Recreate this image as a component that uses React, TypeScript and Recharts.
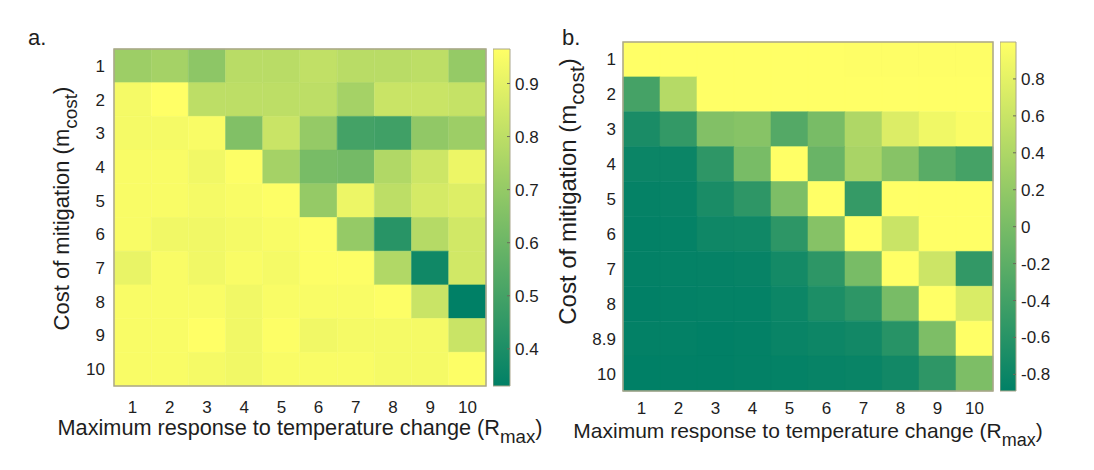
import { BarChart, Bar, Cell, XAxis, YAxis, ReferenceArea } from 'recharts';

// column / row labels
const rMax = ['1', '2', '3', '4', '5', '6', '7', '8', '9', '10'];
const costA = ['1', '2', '3', '4', '5', '6', '7', '8', '9', '10'];
const costB = ['1', '2', '3', '4', '5', '6', '7', '8', '8.9', '10'];

// panel a values, one row per cost of mitigation
const gridA = [
  [0.72, 0.74, 0.68, 0.79, 0.79, 0.81, 0.79, 0.79, 0.8, 0.7],
  [0.94, 0.965, 0.8, 0.8, 0.8, 0.8, 0.74, 0.83, 0.83, 0.82],
  [0.94, 0.94, 0.95, 0.65, 0.83, 0.7, 0.5, 0.49, 0.69, 0.72],
  [0.95, 0.95, 0.93, 0.96, 0.74, 0.63, 0.62, 0.77, 0.84, 0.92],
  [0.95, 0.95, 0.94, 0.95, 0.96, 0.7, 0.92, 0.8, 0.86, 0.88],
  [0.95, 0.93, 0.93, 0.94, 0.95, 0.96, 0.7, 0.43, 0.78, 0.85],
  [0.91, 0.95, 0.93, 0.95, 0.94, 0.96, 0.96, 0.77, 0.37, 0.85],
  [0.95, 0.95, 0.95, 0.93, 0.95, 0.95, 0.95, 0.96, 0.83, 0.33],
  [0.95, 0.95, 0.965, 0.93, 0.96, 0.93, 0.94, 0.94, 0.94, 0.83],
  [0.95, 0.95, 0.94, 0.93, 0.95, 0.95, 0.95, 0.94, 0.94, 0.96],
];

// panel b values
const gridB = [
  [1, 1, 1, 1, 1, 1, 0.99, 0.99, 0.99, 0.99],
  [-0.38, 0.45, 1, 1, 1, 1, 1, 1, 1, 1],
  [-0.7, -0.51, 0.07, 0.11, -0.27, 0.0, 0.41, 0.74, 0.89, 0.96],
  [-0.81, -0.81, -0.55, 0.0, 1, -0.11, 0.36, 0.11, -0.23, -0.38],
  [-0.85, -0.84, -0.7, -0.55, 0.04, 1, -0.5, 1, 1, 1],
  [-0.87, -0.86, -0.78, -0.77, -0.56, 0.1, 1, 0.6, 1, 1],
  [-0.87, -0.86, -0.85, -0.84, -0.74, -0.56, 0.0, 1, 0.62, -0.52],
  [-0.88, -0.87, -0.86, -0.86, -0.8, -0.68, -0.56, 0.0, 1, 0.72],
  [-0.87, -0.87, -0.88, -0.87, -0.82, -0.79, -0.76, -0.6, 0.04, 1],
  [-0.89, -0.88, -0.88, -0.87, -0.86, -0.84, -0.82, -0.76, -0.55, 0.04],
];

const ticksA = [0.4, 0.5, 0.6, 0.7, 0.8, 0.9];
const ticksB = [-0.8, -0.6, -0.4, -0.2, 0, 0.2, 0.4, 0.6, 0.8];

const FONT = '"Liberation Sans", Arial, Helvetica, sans-serif';
const INK = '#1e1e1e';
const EDGE = '#aaa68c';

// MATLAB "summer"
const summer = (t: number) => {
  const c = Math.max(0, Math.min(1, t));
  return `rgb(${Math.round(255 * c)}, ${Math.round(127.5 + 127.5 * c)}, 102)`;
};

const range = (grid: number[][]) => {
  const flat = grid.flat();
  return [Math.min(...flat), Math.max(...flat)];
};

function XTitle({ viewBox, dy, size }: any) {
  const { x, y, width } = viewBox;
  return (
    <text x={x + width / 2} y={y + dy} textAnchor="middle" fontSize={size} fill={INK} fontFamily={FONT}>
      Maximum response to temperature change (R<tspan dy={8} fontSize={size - 3}>max</tspan>
      <tspan dy={-8}>)</tspan>
    </text>
  );
}

function YTitle({ viewBox, bx, dy, size }: any) {
  const cy = viewBox.y + viewBox.height / 2 + dy;
  return (
    <text x={bx} y={cy} transform={`rotate(-90, ${bx}, ${cy})`} textAnchor="middle" fontSize={size} fill={INK} fontFamily={FONT}>
      Cost of mitigation (m<tspan dy={8} fontSize={size - 3}>cost</tspan>
      <tspan dy={-8}>)</tspan>
    </text>
  );
}

function Heatmap({ grid, rows, width, margin, yWidth, xTickGap, yTickGap, xTitleDy, xTitleSize, yTitleX, yTitleDy, yTitleSize }: any) {
  const [lo, hi] = range(grid);
  const data = rMax.map((x, j) => {
    const d: any = { x };
    grid.forEach((_: number[], i: number) => (d['r' + i] = 1));
    return d;
  });
  return (
    <BarChart width={width} height={470} data={data} margin={margin} barCategoryGap={0} barGap={0}>
      <XAxis
        dataKey="x"
        height={60}
        tickLine={false}
        axisLine={false}
        tickSize={0}
        tickMargin={xTickGap}
        interval={0}
        tick={{ fontSize: 17, fill: INK, fontFamily: FONT }}
        label={{ content: (p: any) => <XTitle {...p} dy={xTitleDy} size={xTitleSize} /> }}
      />
      <YAxis
        type="number"
        domain={[0, rows.length]}
        reversed
        width={yWidth}
        ticks={rows.map((_: string, i: number) => i + 0.5)}
        tickFormatter={(v: number) => rows[Math.floor(v)]}
        interval={0}
        tickLine={false}
        axisLine={false}
        tickSize={0}
        tickMargin={yTickGap}
        tick={{ fontSize: 17, fill: INK, fontFamily: FONT }}
        label={{ content: (p: any) => <YTitle {...p} bx={yTitleX} dy={yTitleDy} size={yTitleSize} /> }}
      />
      {grid.map((row: number[], i: number) => (
        <Bar key={i} dataKey={'r' + i} stackId="m" isAnimationActive={false}>
          {row.map((v, j) => {
            const c = summer((v - lo) / (hi - lo));
            return <Cell key={j} fill={c} stroke={c} strokeWidth={0.6} />;
          })}
        </Bar>
      ))}
      <ReferenceArea y1={0} y2={rows.length} fill="none" stroke={EDGE} strokeWidth={1.5} ifOverflow="visible" zIndex={2000} />
    </BarChart>
  );
}

function Colorbar({ grid, ticks, id, top, bottom, barW }: any) {
  const [lo, hi] = range(grid);
  return (
    <BarChart width={barW + 60} height={470} data={[{ k: 'c', span: [lo, hi] }]} margin={{ top, bottom, left: 0, right: 0 }} barCategoryGap={0}>
      <defs>
        <linearGradient id={id} x1="0" y1="0" x2="0" y2="1">
          <stop offset="0" stopColor={summer(1)} />
          <stop offset="1" stopColor={summer(0)} />
        </linearGradient>
      </defs>
      <XAxis dataKey="k" hide />
      <Bar dataKey="span" fill={`url(#${id})`} stroke={EDGE} strokeWidth={1} isAnimationActive={false} />
      <YAxis
        orientation="right"
        type="number"
        domain={[lo, hi]}
        ticks={ticks}
        interval={0}
        width={60}
        axisLine={false}
        tickLine={{ stroke: '#6b6b5a', strokeWidth: 1 }}
        tickSize={-3}
        tickMargin={8}
        tickFormatter={(v: number) => String(v)}
        tick={{ fontSize: 17, fill: INK, fontFamily: FONT }}
      />
    </BarChart>
  );
}

const abs = (left: number): any => ({ position: 'absolute', left, top: 0 });

export default function App() {
  return (
    <div style={{ position: 'absolute', left: 0, top: 0, width: 1094, height: 470, background: '#fff', fontFamily: FONT }}>
      <div style={{ ...abs(28), top: 25, fontSize: 22, color: INK }}>a.</div>
      <div style={{ ...abs(562), top: 25, fontSize: 22, color: INK }}>b.</div>

      <div style={abs(0)}>
        <Heatmap
          grid={gridA}
          rows={costA}
          width={560}
          margin={{ top: 49, right: 74, bottom: 24, left: 0 }}
          yWidth={114}
          xTickGap={15}
          yTickGap={9}
          xTitleDy={49}
          xTitleSize={21.7}
          yTitleX={69}
          yTitleDy={-9}
          yTitleSize={22}
        />
      </div>
      <div style={abs(493)}>
        <Colorbar grid={gridA} ticks={ticksA} id="cbA" top={49} bottom={84} barW={17} />
      </div>

      <div style={abs(520)}>
        <Heatmap
          grid={gridB}
          rows={costB}
          width={574}
          margin={{ top: 42, right: 101, bottom: 19, left: 0 }}
          yWidth={103}
          xTickGap={11}
          yTickGap={7}
          xTitleDy={47}
          xTitleSize={21}
          yTitleX={56}
          yTitleDy={-25}
          yTitleSize={24}
        />
      </div>
      <div style={abs(1000)}>
        <Colorbar grid={gridB} ticks={ticksB} id="cbB" top={42} bottom={79} barW={16} />
      </div>
    </div>
  );
}
